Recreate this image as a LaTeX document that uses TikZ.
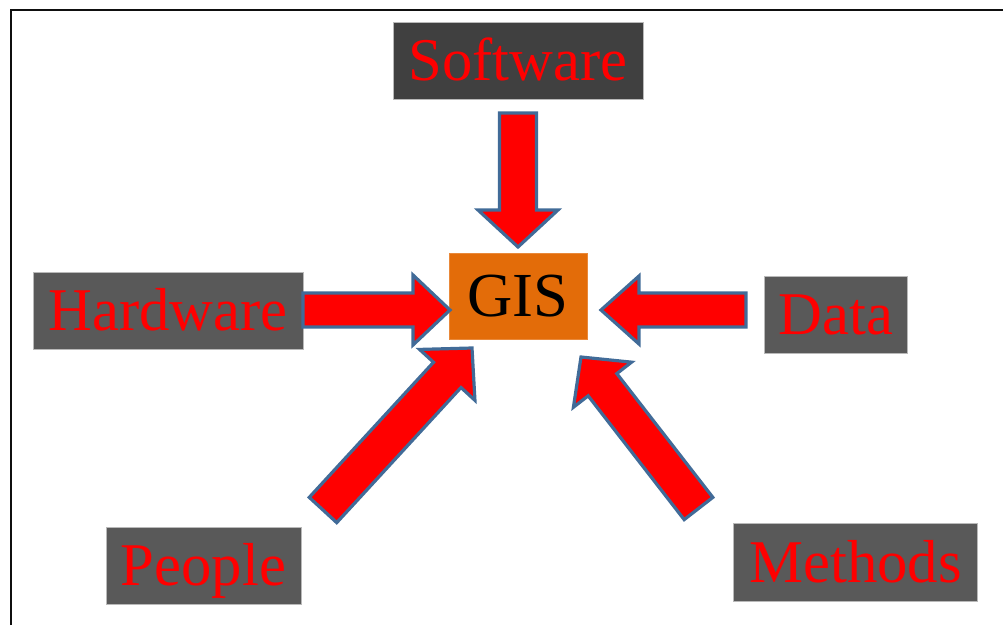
\documentclass[tikz,border=0pt]{standalone}
\usepackage{fontspec}
\setmainfont{Liberation Serif}
\usetikzlibrary{calc}
\definecolor{boxgray}{RGB}{89,89,89}
\definecolor{boxdark}{RGB}{64,64,64}
\definecolor{gisorange}{RGB}{227,108,9}
\definecolor{arrowedge}{RGB}{65,107,152}
\definecolor{labelred}{RGB}{255,0,0}
\definecolor{frameline}{RGB}{15,15,15}
\tikzset{
  lbl/.style={fill=boxgray, draw=gray!55, line width=0.6pt, text=labelred,
    font=\fontsize{45.5}{48}\selectfont, inner sep=0pt, text height=30pt, text depth=0pt},
  gisbox/.style={fill=gisorange, draw=gisorange!80!white, line width=0.5pt, text=black,
    font=\fontsize{47}{50}\selectfont, inner sep=0pt, text height=31pt, text depth=0pt},
  blk/.style={fill=red, draw=arrowedge, line width=2.4pt, line join=miter},
  frame/.style={draw=frameline, line width=2pt},
}
% #1 tail coordinate, #2 tip coordinate, #3 shaft half width, #4 head half width, #5 head length
\newcommand\blockarrow[5]{%
  \coordinate (#1-hb) at ($(#2)!#5!(#1)$);
  \coordinate (#1-t1) at ($(#1)!#3!90:(#2)$);
  \coordinate (#1-t2) at ($(#1)!#3!-90:(#2)$);
  \coordinate (#1-s1) at ($(#1-hb)!#3!90:(#2)$);
  \coordinate (#1-s2) at ($(#1-hb)!#3!-90:(#2)$);
  \coordinate (#1-h1) at ($(#1-hb)!#4!90:(#2)$);
  \coordinate (#1-h2) at ($(#1-hb)!#4!-90:(#2)$);
  \draw[blk] (#1-t1) -- (#1-s1) -- (#1-h1) -- (#2) -- (#1-h2) -- (#1-s2) -- (#1-t2) -- cycle;}
\begin{document}
\begin{tikzpicture}[x=0.75pt, y=-0.75pt]
\useasboundingbox (0,0) rectangle (1003,625);
\draw[frame] (11,625) -- (11,10) -- (1003,10);

\node[lbl, fill=boxdark, minimum width=187.5pt, minimum height=57.75pt] (software) at (518,60.5) {Software};
\node[lbl, minimum width=202.5pt, minimum height=57.75pt] (hardware) at (168,310.5) {Hardware};
\node[lbl, minimum width=107.25pt, minimum height=57.75pt] (data) at (836,314.5) {Data};
\node[lbl, minimum width=146.25pt, minimum height=57.75pt] (people) at (203.5,565.5) {People};
\node[lbl, minimum width=183pt, minimum height=58.5pt] (methods) at (855.5,562) {Methods};
\node[gisbox, minimum width=103.5pt, minimum height=64.5pt] (gis) at (518,296) {GIS};

\coordinate (swT) at (518,113);
\coordinate (swP) at (518,247);
\coordinate (hwT) at (303,310);
\coordinate (hwP) at (450,310);
\coordinate (daT) at (746,310);
\coordinate (daP) at (601,310);
\coordinate (peT) at (323,510);
\coordinate (peP) at (472,348);
\coordinate (meT) at (698.5,508.5);
\coordinate (meP) at (581,357);

\blockarrow{swT}{swP}{13.9pt}{30pt}{27.75pt}
\blockarrow{hwT}{hwP}{12.75pt}{26.25pt}{27.75pt}
\blockarrow{daT}{daP}{12.75pt}{25.5pt}{28.5pt}
\blockarrow{peT}{peP}{14pt}{28.2pt}{27.4pt}
\blockarrow{meT}{meP}{13.6pt}{27.6pt}{26.3pt}
\end{tikzpicture}
\end{document}
